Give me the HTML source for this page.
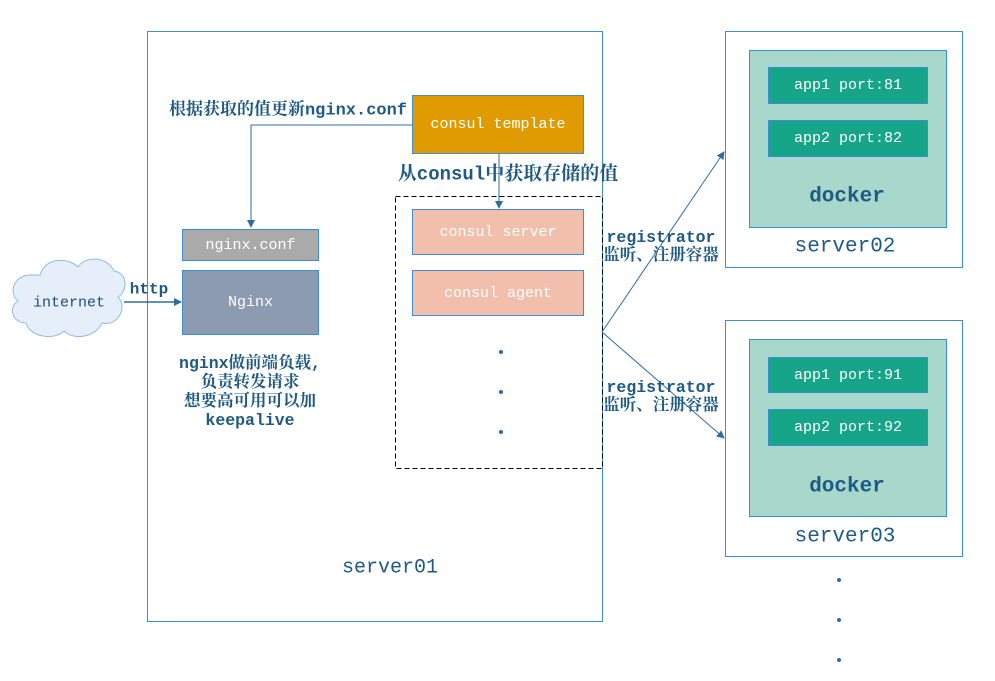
<!DOCTYPE html>
<html><head><meta charset="utf-8"><style>
body{margin:0;width:995px;height:681px;background:#fff;position:relative;overflow:hidden;font-family:"Liberation Mono","Noto Serif CJK SC",monospace}
.b{position:absolute;box-sizing:border-box;display:flex;align-items:center;justify-content:center;color:#fff;font-size:15px}
.t{position:absolute;color:#1f5a85;font-weight:bold;font-size:16px;white-space:nowrap;transform:translate(-50%,-50%);text-align:center;line-height:19px}
</style></head><body>
<svg width="995" height="681" style="position:absolute;left:0;top:0">
<defs><marker id="a" markerWidth="8" markerHeight="8" refX="7" refY="4" orient="auto" markerUnits="userSpaceOnUse"><path d="M0,0L8,4L0,8z" fill="#2e6da4"/></marker></defs>
<rect x="147.5" y="31.5" width="455" height="590" fill="none" stroke="#3a8fd6"/>
<rect x="395.5" y="196.5" width="207" height="272" fill="none" stroke="#000" stroke-dasharray="5,3"/>
<rect x="725.5" y="31.5" width="237" height="236" fill="none" stroke="#3a8fd6"/>
<rect x="725.5" y="320.5" width="237" height="236" fill="none" stroke="#3a8fd6"/>
<rect x="749.5" y="50.5" width="197" height="177" fill="#a8d8cb" stroke="#3a8fd6"/>
<rect x="749.5" y="339.5" width="197" height="177" fill="#a8d8cb" stroke="#3a8fd6"/>
<path d="M40,275c5-18,28-18,38-8c8-12,30-10,36,4c14,2,14,20,4,26c10,10,0,30-16,26c-6,14-28,18-38,8c-10,10-34,6-38-8c-14,0-18-16-8-22c-10-8-4-26,12-26z" fill="#e6eef9" stroke="#8fbbe6"/>
<path d="M412,125H251V227" fill="none" stroke="#2e6da4" marker-end="url(#a)"/>
<path d="M499,154V208" fill="none" stroke="#2e6da4" marker-end="url(#a)"/>
<path d="M124,302H181" fill="none" stroke="#2e6da4" stroke-width="1.5" marker-end="url(#a)"/>
<path d="M602,332L724,152" fill="none" stroke="#2e6da4" marker-end="url(#a)"/>
<path d="M602,332L724,438" fill="none" stroke="#2e6da4" marker-end="url(#a)"/>
<g fill="#2e6da4"><circle cx="501" cy="352" r="2"/><circle cx="501" cy="392" r="2"/><circle cx="501" cy="432" r="2"/>
<circle cx="839" cy="580" r="2"/><circle cx="839" cy="620" r="2"/><circle cx="839" cy="660" r="2"/></g>
</svg>
<div class="b" style="left:412px;top:95px;width:172px;height:59px;background:#e09b00;border:1px solid #3a8fd6">consul template</div>
<div class="b" style="left:182px;top:229px;width:137px;height:32px;background:#aaa;border:1px solid #3a8fd6">nginx.conf</div>
<div class="b" style="left:182px;top:270px;width:137px;height:65px;background:#8c9bb0;border:1px solid #3a8fd6">Nginx</div>
<div class="b" style="left:412px;top:209px;width:172px;height:46px;background:#f3bfad;border:1px solid #3a8fd6">consul server</div>
<div class="b" style="left:412px;top:270px;width:172px;height:46px;background:#f3bfad;border:1px solid #3a8fd6">consul agent</div>
<div class="b" style="left:768px;top:67px;width:160px;height:37px;background:#17a589;border:1px solid #3a8fd6">app1 port:81</div>
<div class="b" style="left:768px;top:120px;width:160px;height:37px;background:#17a589;border:1px solid #3a8fd6">app2 port:82</div>
<div class="b" style="left:768px;top:357px;width:160px;height:36px;background:#17a589;border:1px solid #3a8fd6">app1 port:91</div>
<div class="b" style="left:768px;top:409px;width:160px;height:37px;background:#17a589;border:1px solid #3a8fd6">app2 port:92</div>
<div class="t" style="left:69px;top:303px;font-weight:normal;color:#1f4e79;font-size:15px">internet</div>
<div class="t" style="left:149px;top:290px">http</div>
<div class="t" style="left:288px;top:111px;font-size:17px">根据获取的值更新nginx.conf</div>
<div class="t" style="left:508px;top:175px;font-size:19px">从consul中获取存储的值</div>
<div class="t" style="left:250px;top:392px;font-size:16.5px;line-height:19px">nginx做前端负载,<br>负责转发请求<br>想要高可用可以加<br>keepalive</div>
<div class="t" style="left:661px;top:247px;line-height:18px;font-size:16.5px">registrator<br>监听、注册容器</div>
<div class="t" style="left:661px;top:397px;line-height:18px;font-size:16.5px">registrator<br>监听、注册容器</div>
<div class="t" style="left:847px;top:197px;font-size:21px">docker</div>
<div class="t" style="left:847px;top:487px;font-size:21px">docker</div>
<div class="t" style="left:845px;top:247px;font-size:21px;font-weight:normal">server02</div>
<div class="t" style="left:845px;top:537px;font-size:21px;font-weight:normal">server03</div>
<div class="t" style="left:390px;top:568px;font-size:20px;font-weight:normal">server01</div>
</body></html>
